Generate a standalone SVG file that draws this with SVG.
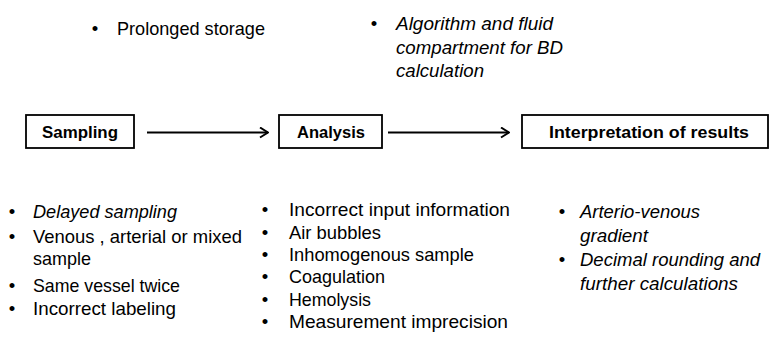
<svg xmlns="http://www.w3.org/2000/svg" width="771" height="339" viewBox="0 0 771 339">
<style>
  text { font-family: "Liberation Sans", Arial, sans-serif; fill: #000; }
  .t { font-size: 18.5px; }
  .i { font-size: 18.5px; font-style: italic; }
  .b { font-size: 18.5px; text-anchor: middle; }
  .lbl { font-size: 17px; font-weight: bold; }
  .box { fill: #fff; stroke: #000; stroke-width: 1.8; }
  .conn { stroke: #000; stroke-width: 1.8; fill: none; }
</style>
<defs>
  <marker id="arr" viewBox="0 0 10 12" refX="9" refY="6" markerWidth="10" markerHeight="12" markerUnits="userSpaceOnUse" orient="auto">
    <path d="M1,1 L9,6 L1,11" fill="none" stroke="#000" stroke-width="2"/>
  </marker>
</defs>
<rect width="771" height="339" fill="#fff"/>

<g id="top-notes">
  <text class="b" x="95" y="35">•</text>
  <text class="t" x="117" y="35" textLength="148" lengthAdjust="spacingAndGlyphs">Prolonged storage</text>
  <text class="b" x="374" y="30">•</text>
  <text class="i" x="396" y="30" textLength="157" lengthAdjust="spacingAndGlyphs">Algorithm and fluid</text>
  <text class="i" x="396" y="54" textLength="167" lengthAdjust="spacingAndGlyphs">compartment for BD</text>
  <text class="i" x="396" y="77" textLength="88" lengthAdjust="spacingAndGlyphs">calculation</text>
</g>

<g id="connectors">
  <line class="conn" x1="147" y1="132.5" x2="268" y2="132.5" marker-end="url(#arr)"/>
  <line class="conn" x1="388" y1="132.5" x2="509" y2="132.5" marker-end="url(#arr)"/>
</g>

<g id="sampling">
  <rect class="box" x="26" y="115" width="108" height="33"/>
  <text class="lbl" x="42" y="138" textLength="76" lengthAdjust="spacingAndGlyphs">Sampling</text>
</g>
<g id="analysis">
  <rect class="box" x="279" y="115" width="103" height="33"/>
  <text class="lbl" x="297" y="138" textLength="68" lengthAdjust="spacingAndGlyphs">Analysis</text>
</g>
<g id="interpretation">
  <rect class="box" x="522" y="115" width="246" height="33"/>
  <text class="lbl" x="549" y="138" textLength="200" lengthAdjust="spacingAndGlyphs">Interpretation of results</text>
</g>

<g id="sampling-issues">
  <text class="b" x="12" y="218">•</text>
  <text class="i" x="33" y="218" textLength="144" lengthAdjust="spacingAndGlyphs">Delayed sampling</text>
  <text class="b" x="12" y="242.5">•</text>
  <text class="t" x="33" y="242.5" textLength="209" lengthAdjust="spacingAndGlyphs">Venous , arterial or mixed</text>
  <text class="t" x="33" y="265" textLength="58" lengthAdjust="spacingAndGlyphs">sample</text>
  <text class="b" x="12" y="291.5">•</text>
  <text class="t" x="33" y="291.5" textLength="147" lengthAdjust="spacingAndGlyphs">Same vessel twice</text>
  <text class="b" x="12" y="315">•</text>
  <text class="t" x="33" y="315" textLength="143" lengthAdjust="spacingAndGlyphs">Incorrect labeling</text>
</g>

<g id="analysis-issues">
  <text class="b" x="265" y="216">•</text>
  <text class="t" x="289" y="216" textLength="221" lengthAdjust="spacingAndGlyphs">Incorrect input information</text>
  <text class="b" x="265" y="238.5">•</text>
  <text class="t" x="289" y="238.5" textLength="92" lengthAdjust="spacingAndGlyphs">Air bubbles</text>
  <text class="b" x="265" y="261">•</text>
  <text class="t" x="289" y="261" textLength="185" lengthAdjust="spacingAndGlyphs">Inhomogenous sample</text>
  <text class="b" x="265" y="283">•</text>
  <text class="t" x="289" y="283" textLength="96" lengthAdjust="spacingAndGlyphs">Coagulation</text>
  <text class="b" x="265" y="305.5">•</text>
  <text class="t" x="289" y="305.5" textLength="82" lengthAdjust="spacingAndGlyphs">Hemolysis</text>
  <text class="b" x="265" y="328">•</text>
  <text class="t" x="289" y="328" textLength="219" lengthAdjust="spacingAndGlyphs">Measurement imprecision</text>
</g>

<g id="interpretation-issues">
  <text class="b" x="562" y="218">•</text>
  <text class="i" x="580" y="218" textLength="120" lengthAdjust="spacingAndGlyphs">Arterio-venous</text>
  <text class="i" x="580" y="242" textLength="68" lengthAdjust="spacingAndGlyphs">gradient</text>
  <text class="b" x="562" y="266">•</text>
  <text class="i" x="580" y="266" textLength="180" lengthAdjust="spacingAndGlyphs">Decimal rounding and</text>
  <text class="i" x="580" y="290" textLength="158" lengthAdjust="spacingAndGlyphs">further calculations</text>
</g>
</svg>
